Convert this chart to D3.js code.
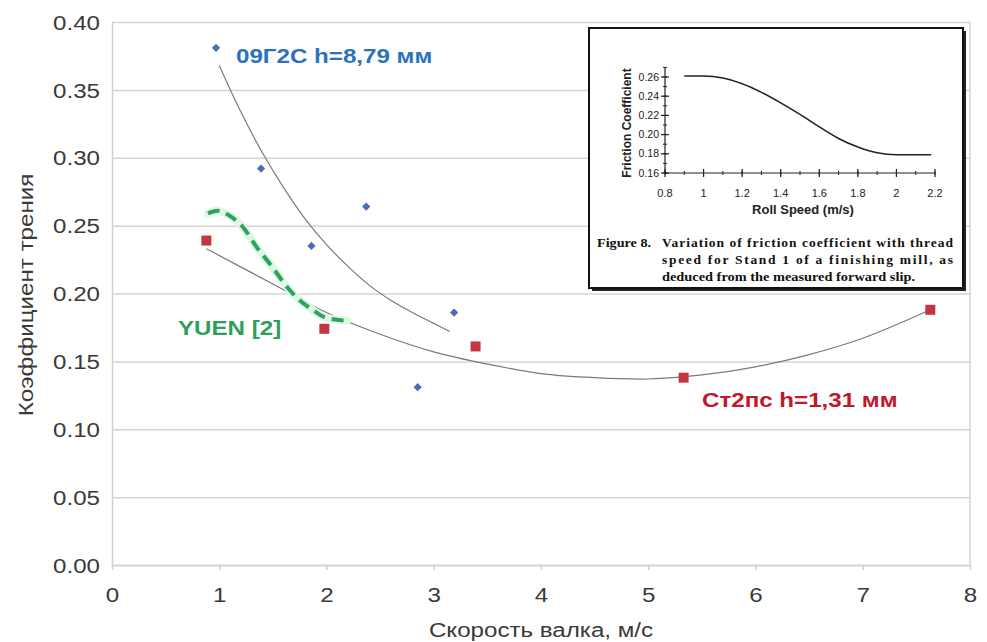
<!doctype html>
<html lang="ru">
  <head>
    <meta charset="utf-8">
    <title>Коэффициент трения</title>
    <script src="https://d3js.org/d3.v7.min.js"></script>
    <style>
      body { margin: 0; background: #fff; }
      svg { display: block; font-family: "Liberation Sans", Arial, sans-serif; }
    </style>
  </head>
  <body>
    <div id="holder"></div>
  <script>
      // data
      const blueX = [0.97, 1.39, 1.86, 2.37, 2.85, 3.19];
      const blueY = [0.381, 0.292, 0.235, 0.264, 0.131, 0.186];
      const redX = [0.88, 1.98, 3.39, 5.33, 7.63];
      const redY = [0.239, 0.174, 0.161, 0.138, 0.188];

      // trend lines
      const blueTrendX = [1.0, 1.2, 1.4, 1.6, 1.8, 2.0, 2.2, 2.4, 2.6, 2.8, 3.0, 3.15];
      const blueTrendY = [0.368, 0.334, 0.304, 0.278, 0.255, 0.236, 0.220, 0.206, 0.195, 0.186, 0.178, 0.172];
      const redTrendX = [0.88, 1.5, 2.0, 2.5, 3.0, 3.5, 4.0, 4.5, 5.0, 5.5, 6.0, 6.5, 7.0, 7.63];
      const redTrendY = [0.233, 0.207, 0.186, 0.170, 0.157, 0.148, 0.141, 0.138, 0.137, 0.140, 0.146, 0.155, 0.167, 0.188];
      const yuenX = [0.895, 0.98, 1.12, 1.22, 1.35, 1.49, 1.63, 1.75, 1.87, 2.0, 2.19];
      const yuenY = [0.259, 0.261, 0.256, 0.249, 0.234, 0.220, 0.205, 0.195, 0.188, 0.182, 0.180];

      const xTicks = [0, 1, 2, 3, 4, 5, 6, 7, 8];
      const yTicks = [0, 0.05, 0.10, 0.15, 0.20, 0.25, 0.30, 0.35, 0.40];

      // inset (Figure 8)
      const insetX = [0.9, 1.0, 1.1, 1.2, 1.3, 1.4, 1.5, 1.6, 1.7, 1.8, 1.9, 2.0, 2.18];
      const insetY = [0.261, 0.261, 0.259, 0.253, 0.244, 0.233, 0.221, 0.208, 0.196, 0.187, 0.181, 0.179, 0.179];
      const insetXTicks = [0.8, 1, 1.2, 1.4, 1.6, 1.8, 2, 2.2];
      const insetYTicks = [0.16, 0.18, 0.20, 0.22, 0.24, 0.26];
      const caption = [
        'Variation of friction coefficient with thread',
        'speed for Stand 1 of a finishing mill, as',
        'deduced from the measured forward slip.'
      ];

      const W = 987, H = 642;
      const sx = 1.15; // text in the picture is a bit wide
      const plotLeft = 112, plotRight = 970, plotTop = 22, plotBottom = 565;

      const svg = d3.select('#holder').append('svg')
          .attr('width', W).attr('height', H);

      const x = d3.scaleLinear().domain([0, 8]).range([plotLeft, plotRight]);
      const y = d3.scaleLinear().domain([0, 0.4]).range([plotBottom, plotTop]);

      // y axis with grid
      const yAxis = d3.axisLeft(y)
          .tickValues(yTicks)
          .tickFormat(d3.format('.2f'))
          .tickSizeInner(-(plotRight - plotLeft))
          .tickSizeOuter(0);
      const gy = svg.append('g')
          .attr('transform', 'translate(' + plotLeft + ',0)')
          .call(yAxis);
      gy.select('.domain').attr('stroke', '#cfcfcf').attr('stroke-width', 1.5);
      gy.selectAll('.tick line').attr('stroke', '#d4d4d4').attr('stroke-width', 1.5);
      gy.selectAll('.tick text')
          .attr('x', -12 / sx)
          .attr('dy', '0.34em')
          .attr('transform', 'scale(' + sx + ',1)')
          .attr('fill', '#3a3a3a')
          .style('font-size', '21px');

      // right border
      svg.append('line')
          .attr('x1', plotRight).attr('x2', plotRight)
          .attr('y1', plotTop).attr('y2', plotBottom)
          .attr('stroke', '#d4d4d4').attr('stroke-width', 1.5);

      // x axis
      const xAxis = d3.axisBottom(x)
          .tickValues(xTicks)
          .tickFormat(d3.format('d'))
          .tickSizeInner(5)
          .tickSizeOuter(0)
          .tickPadding(17);
      const gx = svg.append('g')
          .attr('transform', 'translate(0,' + plotBottom + ')')
          .call(xAxis);
      gx.select('.domain').attr('stroke', '#cfcfcf').attr('stroke-width', 1.5);
      gx.selectAll('.tick line').attr('stroke', '#cfcfcf').attr('stroke-width', 1.5);
      gx.selectAll('.tick text')
          .attr('transform', 'scale(' + sx + ',1)')
          .attr('fill', '#3a3a3a')
          .style('font-size', '21px');

      // axis titles
      svg.append('text')
          .text('Скорость валка, м/с')
          .attr('transform', 'translate(' + (plotLeft + plotRight) / 2 + ',637) scale(' + sx + ',1)')
          .attr('text-anchor', 'middle')
          .attr('fill', '#3a3a3a')
          .style('font-size', '21px');

      svg.append('text')
          .text('Коэффициент трения')
          .attr('transform', 'translate(33,295) rotate(-90) scale(' + sx + ',1)')
          .attr('text-anchor', 'middle')
          .attr('fill', '#3a3a3a')
          .style('font-size', '21px');

      /* INSET */
      const ix = d3.scaleLinear().domain([0.8, 2.2]).range([665, 935]);
      const iy = d3.scaleLinear().domain([0.16, 0.26]).range([173, 77]);
      const inset = svg.append('g').attr('class', 'inset');

      // shadow on right and bottom
      inset.append('rect')
          .attr('x', 592).attr('y', 31)
          .attr('width', 374).attr('height', 260)
          .attr('fill', '#222');
      inset.append('rect')
          .attr('x', 589).attr('y', 28)
          .attr('width', 374).attr('height', 260)
          .attr('fill', '#fff')
          .attr('stroke', '#111').attr('stroke-width', 2);

      // inset axes
      inset.append('line')
          .attr('x1', ix(0.8)).attr('x2', ix(0.8))
          .attr('y1', iy(0.16)).attr('y2', iy(0.27))
          .attr('stroke', '#222').attr('stroke-width', 1.2);
      inset.append('line')
          .attr('x1', ix(0.8)).attr('x2', ix(2.2))
          .attr('y1', iy(0.16)).attr('y2', iy(0.16))
          .attr('stroke', '#222').attr('stroke-width', 1.2);

      const ixMinor = d3.range(0.8, 2.21, 0.1);
      inset.selectAll('.ixminor')
          .data(ixMinor)
          .enter().append('line')
          .attr('x1', d => ix(d)).attr('x2', d => ix(d))
          .attr('y1', iy(0.16) - 2).attr('y2', iy(0.16) + 2)
          .attr('stroke', '#222');
      inset.selectAll('.ixmajor')
          .data(insetXTicks)
          .enter().append('line')
          .attr('x1', d => ix(d)).attr('x2', d => ix(d))
          .attr('y1', iy(0.16) - 4).attr('y2', iy(0.16) + 4)
          .attr('stroke', '#222').attr('stroke-width', 1.2);
      inset.selectAll('.ixlabel')
          .data(insetXTicks)
          .enter().append('text')
          .text(d => d3.format('~g')(d))
          .attr('x', d => ix(d)).attr('y', 197)
          .attr('text-anchor', 'middle')
          .attr('fill', '#222')
          .style('font-size', '11px');

      const iyMinor = d3.range(0.16, 0.271, 0.01);
      inset.selectAll('.iyminor')
          .data(iyMinor)
          .enter().append('line')
          .attr('x1', ix(0.8) - 2).attr('x2', ix(0.8) + 2)
          .attr('y1', d => iy(d)).attr('y2', d => iy(d))
          .attr('stroke', '#222');
      inset.selectAll('.iymajor')
          .data(insetYTicks)
          .enter().append('line')
          .attr('x1', ix(0.8) - 4).attr('x2', ix(0.8) + 4)
          .attr('y1', d => iy(d)).attr('y2', d => iy(d))
          .attr('stroke', '#222').attr('stroke-width', 1.2);
      inset.selectAll('.iylabel')
          .data(insetYTicks)
          .enter().append('text')
          .text(d => d3.format('.2f')(d))
          .attr('x', ix(0.8) - 6).attr('y', d => iy(d))
          .attr('dy', '0.35em')
          .attr('text-anchor', 'end')
          .attr('fill', '#222')
          .style('font-size', '10.5px');

      inset.append('path')
          .datum(d3.zip(insetX, insetY))
          .attr('d', d3.line().x(d => ix(d[0])).y(d => iy(d[1])).curve(d3.curveMonotoneX))
          .attr('fill', 'none')
          .attr('stroke', '#222')
          .attr('stroke-width', 1.6);

      inset.append('text')
          .text('Friction Coefficient')
          .attr('transform', 'translate(631,123) rotate(-90)')
          .attr('text-anchor', 'middle')
          .attr('fill', '#222')
          .style('font-size', '12px')
          .style('font-weight', 'bold');
      inset.append('text')
          .text('Roll Speed (m/s)')
          .attr('x', 803).attr('y', 214)
          .attr('text-anchor', 'middle')
          .attr('fill', '#222')
          .style('font-size', '13px')
          .style('font-weight', 'bold');

      const serif = '"Liberation Serif", "Times New Roman", serif';
      inset.append('text')
          .text('Figure 8.')
          .attr('x', 597).attr('y', 247)
          .attr('textLength', 54).attr('lengthAdjust', 'spacingAndGlyphs')
          .attr('fill', '#111')
          .style('font-family', serif)
          .style('font-weight', 'bold')
          .style('font-size', '13px');
      const captionWidths = [291, 291, 253];
      caption.forEach(function(line, i) {
          inset.append('text')
              .text(line)
              .attr('x', 662).attr('y', 247 + i * 17)
              .attr('textLength', captionWidths[i])
              .attr('lengthAdjust', i < 2 ? 'spacing' : 'spacingAndGlyphs')
              .attr('fill', '#111')
              .style('font-family', serif)
              .style('font-weight', 'bold')
              .style('font-size', '13.5px');
      });

      /* SERIES */
      const line = d3.line()
          .x(d => x(d[0]))
          .y(d => y(d[1]))
          .curve(d3.curveCatmullRom.alpha(0.5));

      // trend lines
      svg.append('path')
          .datum(d3.zip(blueTrendX, blueTrendY))
          .attr('d', line)
          .attr('fill', 'none')
          .attr('stroke', '#7a7a7a')
          .attr('stroke-width', 1.2);
      svg.append('path')
          .datum(d3.zip(redTrendX, redTrendY))
          .attr('d', line)
          .attr('fill', 'none')
          .attr('stroke', '#7a7a7a')
          .attr('stroke-width', 1.2);

      // YUEN curve: pale halo, then dashes
      const yuenLine = d3.line()
          .x(d => x(d[0]))
          .y(d => y(d[1]))
          .curve(d3.curveMonotoneX);
      svg.append('path')
          .datum(d3.zip(yuenX, yuenY))
          .attr('d', yuenLine)
          .attr('fill', 'none')
          .attr('stroke', '#dcf7e5')
          .attr('stroke-width', 8)
          .attr('stroke-linecap', 'round');
      svg.append('path')
          .datum(d3.zip(yuenX, yuenY))
          .attr('d', yuenLine)
          .attr('fill', 'none')
          .attr('stroke', '#2ea35c')
          .attr('stroke-width', 4)
          .attr('stroke-dasharray', '12,7');

      // markers
      svg.selectAll('.blue')
          .data(d3.zip(blueX, blueY))
          .enter().append('path')
          .attr('d', d3.symbol(d3.symbolSquare, 34))
          .attr('transform', d => 'translate(' + x(d[0]) + ',' + y(d[1]) + ') rotate(45)')
          .attr('fill', '#4a6db4');
      svg.selectAll('.red')
          .data(d3.zip(redX, redY))
          .enter().append('path')
          .attr('d', d3.symbol(d3.symbolSquare, 100))
          .attr('transform', d => 'translate(' + x(d[0]) + ',' + y(d[1]) + ')')
          .attr('fill', '#c3363f');

      // series labels
      const labels = [
          { text: '09Г2С h=8,79 мм', x: 236, y: 63, color: '#2b72bd' },
          { text: 'YUEN [2]', x: 178, y: 335, color: '#2e9e5b' },
          { text: 'Ст2пс h=1,31 мм', x: 702, y: 407, color: '#c2182c' }
      ];
      svg.selectAll('.label')
          .data(labels)
          .enter().append('text')
          .text(d => d.text)
          .attr('transform', d => 'translate(' + d.x + ',' + d.y + ') scale(' + sx + ',1)')
          .attr('fill', d => d.color)
          .style('font-size', '21px')
          .style('font-weight', 'bold');
  </script>
  </body>
</html>
